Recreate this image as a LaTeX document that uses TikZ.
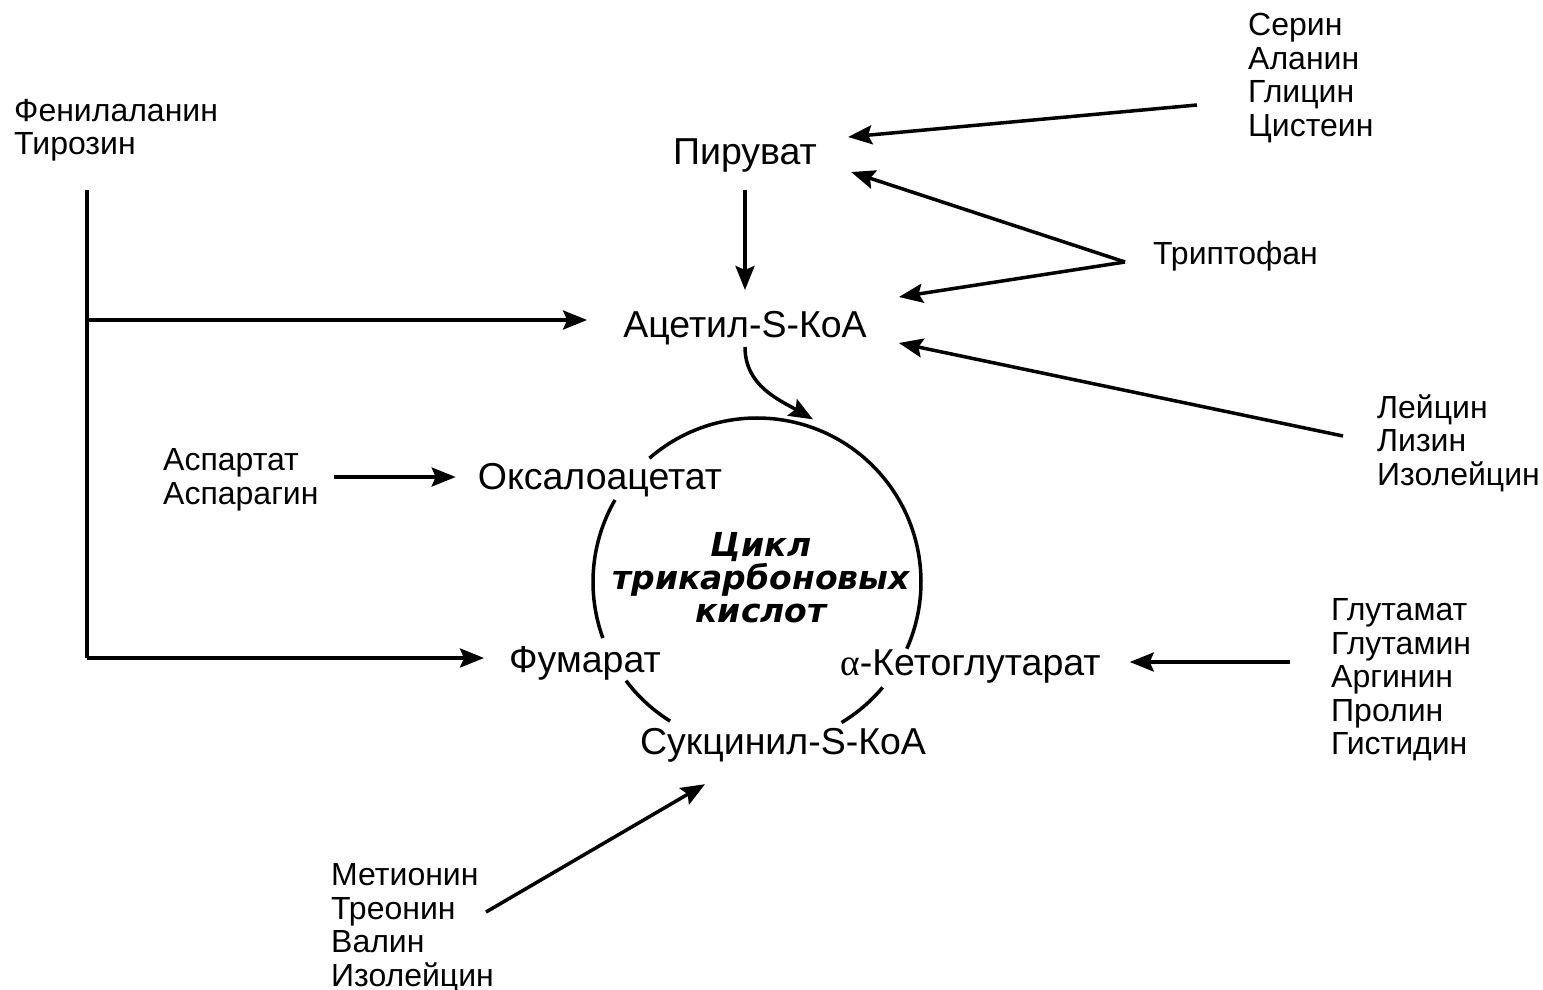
\documentclass[tikz,border=0pt]{standalone}
\usepackage{fontspec}
\setmainfont{Liberation Sans}
\newfontfamily\tcafont{DejaVu Sans}
\newfontfamily\greekfont{Liberation Serif}
\usetikzlibrary{arrows.meta,calc}

\begin{document}
\begin{tikzpicture}
	[x=1pt,y=-1pt,
	main/.style={font=\fontsize{37.5}{40}\selectfont, inner sep=2pt},
	side/.style={font=\fontsize{32}{33.5}\selectfont, align=left,
		anchor=west, inner sep=0pt},
	tca/.style={font=\tcafont\bfseries\itshape\fontsize{33}{33}\selectfont,
		align=center},
	line/.style={line width=3.5pt},
	arr/.style={line, -{Stealth[length=24pt,width=19pt,inset=4pt]}}]
	\useasboundingbox (0,0) rectangle (1543,990);

	\node[main] (pyr) at (745,155) {Пируват};
	\node[main] (acoa) at (745,328) {Ацетил-S-КоА};
	\node[main] (oaa) at (600,480) {Оксалоацетат};
	\node[main] (fum) at (585,663) {Фумарат};
	\node[main, anchor=west] (akg) at (838,666) {{\greekfont α}-Кетоглутарат};
	\node[main] (suc) at (783,745) {Сукцинил-S-КоА};
	\node[tca] (tca) at (761,578) {Цикл\\трикарбоновых\\кислот};

	\node[side] (ser) at (1248,78) {Серин\\Аланин\\Глицин\\Цистеин};
	\node[side] (trp) at (1153,256) {Триптофан};
	\node[side] (leu) at (1377,443) {Лейцин\\Лизин\\Изолейцин};
	\node[side] (phe) at (14,130) {Фенилаланин\\Тирозин};
	\node[side] (asp) at (163,480) {Аспартат\\Аспарагин};
	\node[side] (glu) at (1331,680) {Глутамат\\Глутамин\\Аргинин\\Пролин\\Гистидин};
	\node[side] (met) at (331,928) {Метионин\\Треонин\\Валин\\Изолейцин};

	\coordinate (ctr) at (757,582);
	\coordinate (phetop) at (87,190);
	\coordinate (phemid) at (87,320);
	\coordinate (phebot) at (87,658);
	\coordinate (trpfork) at ([xshift=-28pt,yshift=-6pt]trp.west);
	\coordinate (ctop) at ($(ctr)+(71:172pt)$);

	\draw[line] ($(ctr)+(131:164pt)$) arc[start angle=131, end angle=-24, radius=164pt];
	\draw[line] ($(ctr)+(-40:164pt)$) arc[start angle=-40, end angle=-59, radius=164pt];
	\draw[line] ($(ctr)+(-122:164pt)$) arc[start angle=-122, end angle=-143, radius=164pt];
	\draw[line] ($(ctr)+(-160:164pt)$) arc[start angle=-160, end angle=-210, radius=164pt];

	\draw[arr, shorten <=16pt, shorten >=19pt] (pyr.south) -- (pyr.south |- acoa.north);
	\draw[arr] (acoa.south) to[out=-90, in=150] (ctop);
	\draw[arr] ([xshift=-51pt,yshift=-27pt]ser.west) -- ([xshift=29pt,yshift=18pt]pyr.east);
	\draw[arr] (trpfork) -- ([xshift=32pt,yshift=-17pt]pyr.east);
	\draw[arr] (trpfork) -- ([xshift=30pt,yshift=31pt]acoa.east);
	\draw[arr] ([xshift=-34pt,yshift=7pt]leu.west) -- ([xshift=30pt,yshift=-15pt]acoa.east);
	\draw[line] (phetop) -- (phebot);
	\draw[arr, shorten >=34pt] (phemid) -- (phemid -| acoa.west);
	\draw[arr, shorten >=23pt] (phebot) -- (phebot -| fum.west);
	\draw[arr, shorten <=15pt, shorten >=20pt] ([yshift=3pt]asp.east) -- ([yshift=3pt]asp.east -| oaa.west);
	\draw[arr, shorten <=41pt, shorten >=27pt] ([yshift=18pt]glu.west) -- ([yshift=18pt]glu.west -| akg.east);
	\draw[arr] ([xshift=-8pt,yshift=16pt]met.east) -- ([xshift=-78pt,yshift=-20pt]suc.south);
\end{tikzpicture}
\end{document}
